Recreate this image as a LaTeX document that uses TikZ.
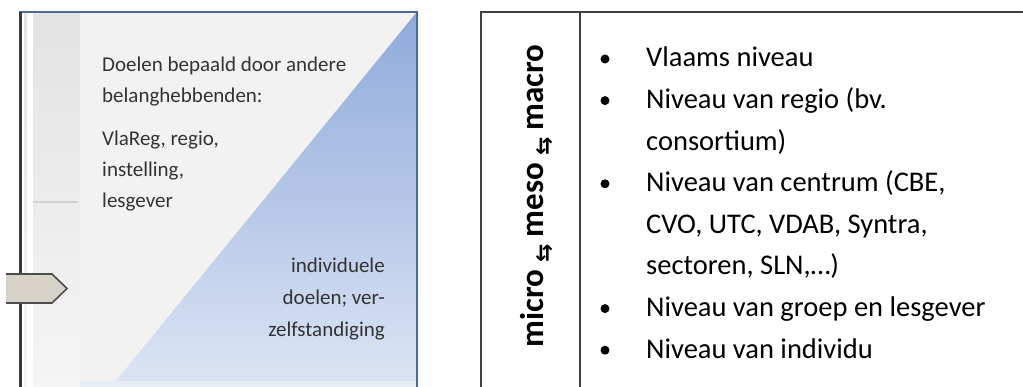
\documentclass[tikz,border=0pt]{standalone}
\usepackage{fontspec}
\setmainfont{Carlito}
\newfontfamily\djv{DejaVu Sans}
\definecolor{panelline}{HTML}{4A6A98}
\definecolor{panelbg}{HTML}{F2F2F2}
\definecolor{tritop}{HTML}{8FAADB}
\definecolor{tribot}{HTML}{DCE5F4}
\definecolor{lefttext}{HTML}{333333}
\definecolor{slidedark}{HTML}{3A3A3A}
\definecolor{arrowfill}{HTML}{D6D2CA}
\definecolor{tableline}{HTML}{404040}
\newcommand{\lvarrow}{\hspace{7pt}\raisebox{-8pt}{\djv\bfseries\fontsize{22}{24}\selectfont ⇆}\hspace{7pt}}
\tikzset{
  lt/.style={font=\fontsize{21}{25}\selectfont, text=lefttext, inner sep=0pt},
  rt/.style={font=\fontsize{28.5}{34}\selectfont, text=black, inner sep=0pt, anchor=base west},
  bul/.style={circle, fill=black, inner sep=0pt, minimum size=9pt},
  tline/.style={draw=tableline, line width=1.4pt},
}
\begin{document}
\begin{tikzpicture}[x=1pt,y=-1pt]
\useasboundingbox (0,0) rectangle (1023,387);
% ---------- left panel ----------
\fill[white] (0,0) rectangle (1023,387);
\fill[panelbg] (80,13) rectangle (416,387);
\shade[top color=tritop, bottom color=tribot] (416,13) -- (416,387) -- (111,387) -- cycle;
\fill[tribot!70!white] (80,381) rectangle (416,387);
% slider strip
\shade[top color=black!11, bottom color=black!4] (24,13) rectangle (80,387);
\fill[white!85!black!3] (27,13) rectangle (33,387);
\draw[black!18, line width=2pt] (33,202) -- (78,202);
% panel frame
\draw[panelline, line width=2.2pt] (19,12) -- (417,12);
\draw[panelline, line width=2pt] (417,11) -- (417,387);
% slider line and arrow
\coordinate (st) at (20,12);
\coordinate (sa) at (20,274);
\coordinate (sb) at (20,303);
\coordinate (se) at (20,387);
\draw[slidedark, line width=3pt] (st) -- (sa);
\draw[slidedark, line width=3pt] (sb) -- (se);
\fill[arrowfill] (6,274) -- (52,274) -- (67,288.5) -- (52,303) -- (6,303) -- cycle;
\draw[black!70, line width=1.6pt, line join=miter] (6,274) -- (52,274) -- (67,288.5) -- (52,303) -- (6,303);
% left texts
\node[lt, anchor=base west] (a1) at (102,72) {Doelen bepaald door andere};
\node[lt, anchor=base west] (a2) at (102,103) {belanghebbenden:};
\node[lt, anchor=base west] (a3) at (102,146) {VlaReg, regio,};
\node[lt, anchor=base west] (a4) at (102,177) {instelling,};
\node[lt, anchor=base west] (a5) at (102,208) {lesgever};
\node[lt, anchor=base east] (b1) at (385,273) {individuele};
\node[lt, anchor=base east] (b2) at (385,305) {doelen; ver-};
\node[lt, anchor=base east] (b3) at (385,337) {zelfstandiging};
% ---------- table ----------
\draw[tline] (481,387) -- (481,12) -- (1023,12);
\draw[tline] (580,12) -- (580,387);
\node[rotate=90, anchor=base, inner sep=0pt, font=\bfseries\fontsize{33}{38}\selectfont] (lvl) at (543,196)
  {micro\lvarrow meso\lvarrow macro};
% bullets and items
\node[bul] (u1) at (605,59) {};
\node[rt] (t1) at (646,67) {Vlaams niveau};
\node[bul] (u2) at (605,100.6) {};
\node[rt] (t2) at (646,108.6) {Niveau van regio (bv.};
\node[rt] (t3) at (646,150.2) {consortium)};
\node[bul] (u3) at (605,183.8) {};
\node[rt] (t4) at (646,191.8) {Niveau van centrum (CBE,};
\node[rt] (t5) at (646,233.4) {CVO, UTC, VDAB, Syntra,};
\node[rt] (t6) at (646,275) {sectoren, SLN,…)};
\node[bul] (u4) at (605,308.6) {};
\node[rt] (t7) at (646,316.6) {Niveau van groep en lesgever};
\node[bul] (u5) at (605,350.2) {};
\node[rt] (t8) at (646,358.2) {Niveau van individu};
\end{tikzpicture}
\end{document}
